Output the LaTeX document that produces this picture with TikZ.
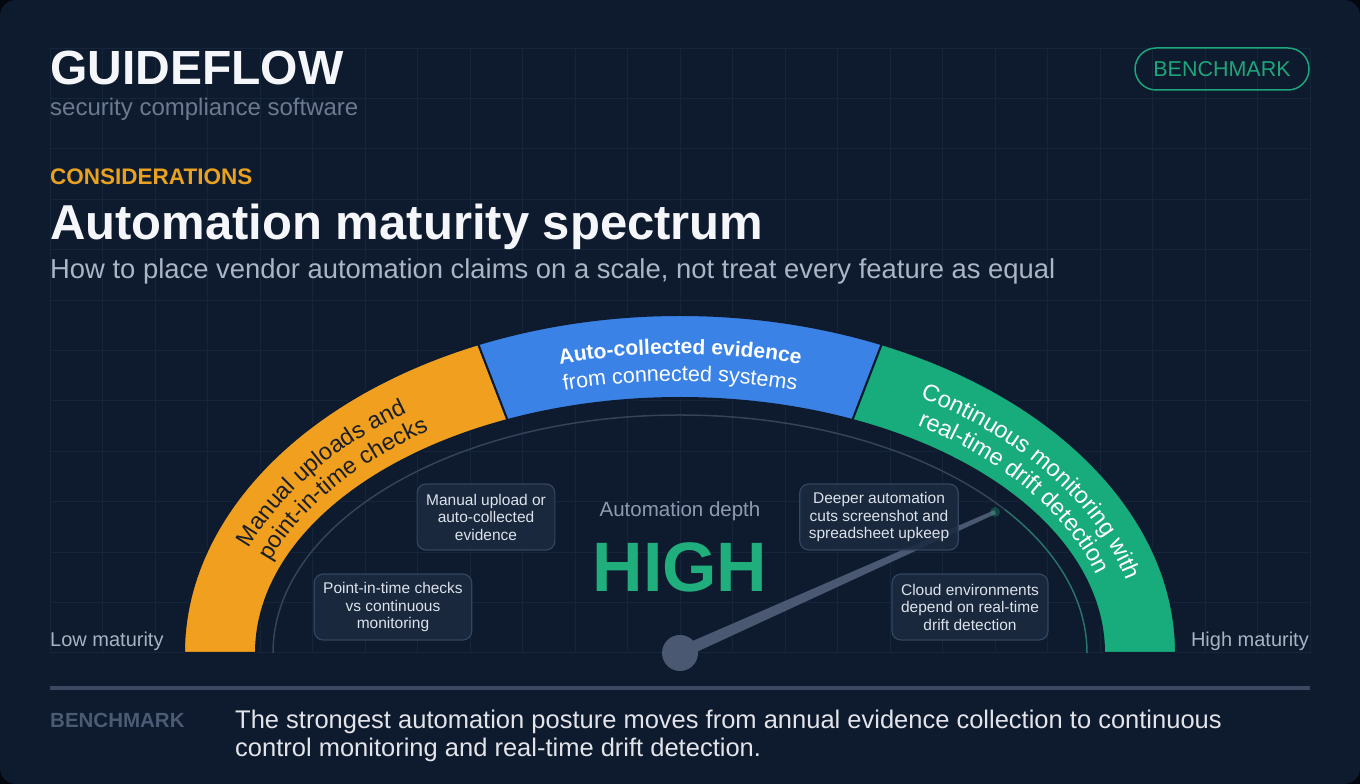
\documentclass[tikz,border=0pt]{standalone}
\usepackage{fontspec}
\setmainfont{Liberation Sans}
\usetikzlibrary{calc, decorations.text}

\definecolor{cardbg}{HTML}{0E1A2D}
\definecolor{outerbg}{HTML}{05080E}
\definecolor{gridcol}{HTML}{15253A}
\definecolor{bandorange}{HTML}{F0A01E}
\definecolor{bandblue}{HTML}{3A82E6}
\definecolor{bandgreen}{HTML}{18AB7C}
\definecolor{highgreen}{HTML}{1FAE7C}
\definecolor{boxfill}{HTML}{1B2A40}
\definecolor{boxline}{HTML}{34455E}
\definecolor{boxtext}{HTML}{DCE2EB}
\definecolor{subgray}{HTML}{6B7A90}
\definecolor{leadgray}{HTML}{AAB5C6}
\definecolor{endgray}{HTML}{A7B2C2}
\definecolor{depthgray}{HTML}{8E9AAF}
\definecolor{needlecol}{HTML}{4B5872}
\definecolor{arccol}{HTML}{34435A}
\definecolor{sepcol}{HTML}{3A4860}
\definecolor{footgray}{HTML}{4B5B74}
\definecolor{considorange}{HTML}{E9A21F}
\definecolor{pillgreen}{HTML}{1FA57A}
\definecolor{darktext}{HTML}{1A1E26}
\definecolor{whitetext}{HTML}{F4F6FA}

\newcommand\bandsidefont{\fontsize{23.5}{27}\selectfont}
\newcommand\bandtopbold{\bfseries\fontsize{21}{25}\selectfont}
\newcommand\bandtopfont{\fontsize{21.5}{25}\selectfont}

\begin{document}
\begin{tikzpicture}[x=1pt, y=1pt,
  txt/.style={inner sep=0, anchor=base west},
  band/.style={draw=cardbg, line width=2pt},
  bandline/.style={decorate, decoration={text along path, text align=center, text={#1}}},
  callout/.style={draw=boxline, fill=boxfill, fill opacity=.88, text opacity=1, rounded corners=9pt,
    line width=1.2pt, align=center, text=boxtext, font=\fontsize{15.5}{17.5}\selectfont,
    inner xsep=9pt, minimum height=66pt}]

\useasboundingbox (0,0) rectangle (1360,784);

% --- card and grid ---
\fill[outerbg] (0,0) rectangle (1360,784);
\fill[cardbg, rounded corners=16pt] (0,0) rectangle (1360,784);
\draw[gridcol, line width=1pt, shift={(50,131)}] (0,0) grid[xstep=52.5pt, ystep=50.4pt] (1260,605);

% --- header ---
\node[txt, font=\bfseries\fontsize{48}{54}\selectfont, text=whitetext] (brand) at (50,699) {GUIDEFLOW};
\node[txt, font=\fontsize{24}{28}\selectfont, text=subgray] (tagline) at (50,668) {security compliance software};
\node[draw=pillgreen, line width=1.5pt, rounded corners=21pt, minimum width=174pt, minimum height=42pt,
  text=pillgreen, font=\fontsize{21.5}{24}\selectfont] (pill) at (1222,715) {BENCHMARK};
\node[txt, font=\bfseries\fontsize{22.5}{26}\selectfont, text=considorange] (kicker) at (50,599) {CONSIDERATIONS};
\node[txt, font=\bfseries\fontsize{49}{54}\selectfont, text=whitetext] (title) at (50,544) {Automation maturity spectrum};
\node[txt, font=\fontsize{27.4}{30}\selectfont, text=leadgray] (lead) at (50,505) {How to place vendor automation claims on a scale, not treat every feature as equal};

% --- gauge bands ---
\coordinate (c) at (680,131);
\filldraw[band, fill=bandorange] ($(c)+(180:496pt and 338pt)$) arc[start angle=180, end angle=114, x radius=496pt, y radius=338pt]
  -- ($(c)+(114:424pt and 255pt)$) arc[start angle=114, end angle=180, x radius=424pt, y radius=255pt] -- cycle;
\filldraw[band, fill=bandblue] ($(c)+(114:496pt and 338pt)$) arc[start angle=114, end angle=66, x radius=496pt, y radius=338pt]
  -- ($(c)+(66:424pt and 255pt)$) arc[start angle=66, end angle=114, x radius=424pt, y radius=255pt] -- cycle;
\filldraw[band, fill=bandgreen] ($(c)+(66:496pt and 338pt)$) arc[start angle=66, end angle=0, x radius=496pt, y radius=338pt]
  -- ($(c)+(0:424pt and 255pt)$) arc[start angle=0, end angle=66, x radius=424pt, y radius=255pt] -- cycle;

% band texts
\path[bandline={|\bandsidefont\color{darktext}|Manual uploads and}] ($(c)+(181:460pt and 299pt)$)
  arc[start angle=181, end angle=111, x radius=460pt, y radius=299pt];
\path[bandline={|\bandsidefont\color{darktext}|point-in-time checks}] ($(c)+(181:435pt and 272pt)$)
  arc[start angle=181, end angle=111, x radius=435pt, y radius=272pt];
\path[bandline={|\bandtopbold\color{white}|Auto-collected evidence}] ($(c)+(122:466pt and 299pt)$)
  arc[start angle=122, end angle=58, x radius=466pt, y radius=299pt];
\path[bandline={|\bandtopfont\color{white}|from connected systems}] ($(c)+(122:440pt and 272pt)$)
  arc[start angle=122, end angle=58, x radius=440pt, y radius=272pt];
\path[bandline={|\bandsidefont\color{white}|Continuous monitoring with}] ($(c)+(69:460pt and 299pt)$)
  arc[start angle=69, end angle=-1, x radius=460pt, y radius=299pt];
\path[bandline={|\bandsidefont\color{white}|real-time drift detection}] ($(c)+(69:435pt and 272pt)$)
  arc[start angle=69, end angle=-1, x radius=435pt, y radius=272pt];

% inner track, tinted up to the needle
\draw[arccol, line width=1.5pt] ($(c)+(180:407pt and 238pt)$) arc[start angle=180, end angle=37, x radius=407pt, y radius=238pt];
\draw[bandgreen!45!arccol, line width=1.5pt] ($(c)+(37:407pt and 238pt)$) arc[start angle=37, end angle=0, x radius=407pt, y radius=238pt];

% --- needle ---
\node[circle, fill=needlecol, minimum size=36pt, inner sep=0] (hub) at (c) {};
\coordinate (tip) at (995,272);
\fill[needlecol] ($(hub.center)!6pt!90:(tip)$) -- ($(tip)!2pt!-90:(hub.center)$)
  -- ($(tip)!2pt!90:(hub.center)$) -- ($(hub.center)!6pt!-90:(tip)$) -- cycle;
\fill[highgreen, opacity=.3] (tip) circle (5pt);

% --- centre readout ---
\node[inner sep=0, anchor=base, font=\fontsize{20.5}{24}\selectfont, text=depthgray] (depth) at (680,267) {Automation depth};
\node[inner sep=0, anchor=base, font=\bfseries\fontsize{70}{74}\selectfont, text=highgreen] (level) at (680,192) {HIGH};

% --- callouts ---
\node[callout] (cupload) at (486,267) {Manual upload or\\auto-collected\\evidence};
\node[callout] (ccheck) at (393,177) {Point-in-time checks\\vs continuous\\monitoring};
\node[callout] (cdeep) at (879,267) {Deeper automation\\cuts screenshot and\\spreadsheet upkeep};
\node[callout] (ccloud) at (970,177) {Cloud environments\\depend on real-time\\drift detection};

% --- scale ends ---
\node[txt, font=\fontsize{20}{24}\selectfont, text=endgray] (lowend) at (50,137) {Low maturity};
\node[txt, anchor=base east, font=\fontsize{20}{24}\selectfont, text=endgray] (highend) at (1309,137) {High maturity};

% --- footer ---
\draw[sepcol, line width=3.5pt] (50,96) -- (1310,96);
\node[txt, font=\bfseries\fontsize{20.5}{24}\selectfont, text=footgray] (foot) at (50,56) {BENCHMARK};
\node[txt, font=\fontsize{25.5}{29}\selectfont, text=whitetext!92!cardbg] (note1) at (235,55) {The strongest automation posture moves from annual evidence collection to continuous};
\node[txt, font=\fontsize{25.5}{29}\selectfont, text=whitetext!92!cardbg] (note2) at (235,27) {control monitoring and real-time drift detection.};

\end{tikzpicture}
\end{document}
